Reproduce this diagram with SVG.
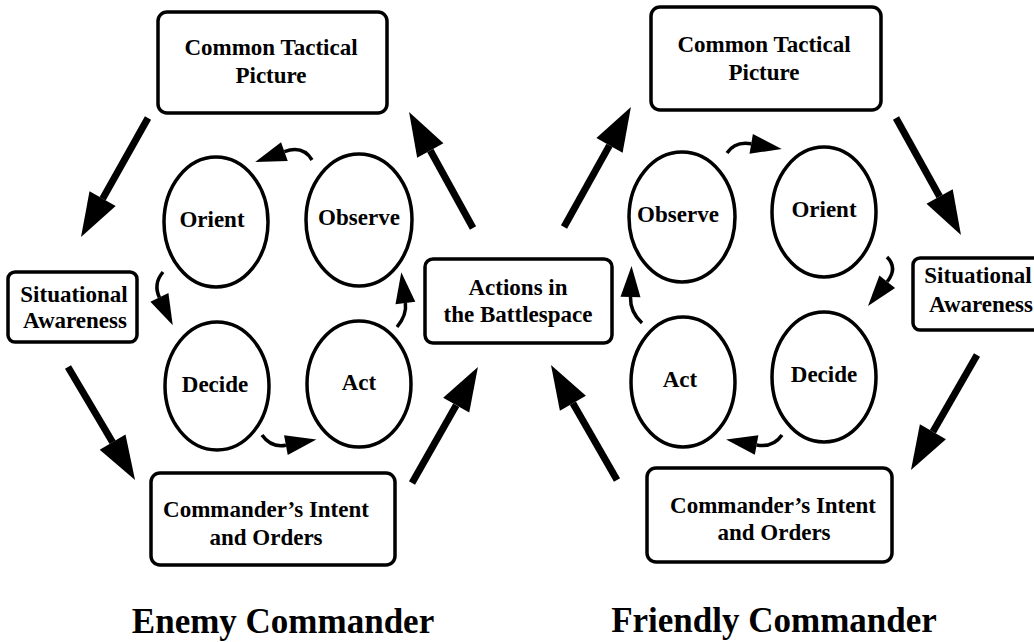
<svg xmlns="http://www.w3.org/2000/svg" width="1034" height="642" viewBox="0 0 1034 642">
<style>
.box{fill:#fff;stroke:#000;stroke-width:3.5}
.ell{fill:#fff;stroke:#000;stroke-width:3.5}
.t{font-family:"Liberation Serif","Times New Roman",serif;font-weight:bold;font-size:23px;fill:#000;text-anchor:middle}
.title{font-family:"Liberation Serif","Times New Roman",serif;font-weight:bold;font-size:35px;fill:#000;text-anchor:middle}
.big{stroke:#000;stroke-width:7;fill:none;marker-end:url(#bighead)}
.small{stroke:#000;stroke-width:3.5;fill:none;marker-end:url(#smallhead)}
</style>
<defs>
<marker id="bighead" markerUnits="userSpaceOnUse" viewBox="0 -15 44 30" markerWidth="44" markerHeight="30" refX="0" refY="0" orient="auto" overflow="visible">
<path d="M0,-15 L44,0 L0,15 Z" fill="#000"/>
</marker>
<marker id="smallhead" markerUnits="userSpaceOnUse" viewBox="0 -10 31 20" markerWidth="31" markerHeight="20" refX="0" refY="0" orient="auto" overflow="visible">
<path d="M0,-10 L31,0 L0,10 Z" fill="#000"/>
</marker>
</defs>
<rect width="1034" height="642" fill="#fff"/>

<g id="connectors">
<line class="big" x1="148" y1="118" x2="102.6" y2="198.7"/>
<line class="big" x1="68" y1="367" x2="112.6" y2="442.2"/>
<line class="big" x1="412" y1="483" x2="456.2" y2="405.2"/>
<line class="big" x1="473" y1="228" x2="430.3" y2="150.5"/>
<line class="big" x1="564" y1="227" x2="609.5" y2="145.4"/>
<line class="big" x1="896" y1="118" x2="939.6" y2="196.5"/>
<line class="big" x1="977" y1="355" x2="932.9" y2="431.8"/>
<line class="big" x1="617" y1="480" x2="572.9" y2="403.2"/>
<path class="small" d="M312,160 Q303,145 284.4,151.6"/>
<path class="small" d="M163,272 Q153,284 159.4,297.4"/>
<path class="small" d="M262,435 Q271,448 285.9,445.2"/>
<path class="small" d="M397,327 Q407,315 405.4,303"/>
<path class="small" d="M727,153 Q735,141 751.2,143.8"/>
<path class="small" d="M887,257 Q898,268 887.2,281.7"/>
<path class="small" d="M782,435 Q773,448 756.6,445"/>
<path class="small" d="M642,323 Q630,312 630.5,297"/>
</g>

<g id="enemy-ctp"><rect class="box" x="158" y="12" width="229" height="101" rx="9"/>
<text class="t" x="271" y="55">Common Tactical</text><text class="t" x="271" y="83">Picture</text></g>
<g id="enemy-sa"><rect class="box" x="8" y="272" width="129" height="70" rx="7"/>
<text class="t" x="74" y="302">Situational</text><text class="t" x="75" y="328">Awareness</text></g>
<g id="enemy-ci"><rect class="box" x="151" y="473" width="244" height="92" rx="9"/>
<text class="t" x="266" y="517">Commander’s Intent</text><text class="t" x="266" y="545">and Orders</text></g>
<g id="enemy-orient"><ellipse class="ell" cx="216" cy="222" rx="52" ry="65"/><text class="t" x="212" y="227">Orient</text></g>
<g id="enemy-observe"><ellipse class="ell" cx="359" cy="220" rx="53" ry="66"/><text class="t" x="359" y="225">Observe</text></g>
<g id="enemy-decide"><ellipse class="ell" cx="217" cy="386" rx="52" ry="64"/><text class="t" x="215" y="392">Decide</text></g>
<g id="enemy-act"><ellipse class="ell" cx="359" cy="384" rx="52" ry="63"/><text class="t" x="359" y="390">Act</text></g>

<g id="actions"><rect class="box" x="425" y="259" width="187" height="84" rx="8"/>
<text class="t" x="518" y="295">Actions in</text><text class="t" x="518" y="322">the Battlespace</text></g>

<g id="friendly-ctp"><rect class="box" x="651" y="7" width="230" height="103" rx="9"/>
<text class="t" x="764" y="52">Common Tactical</text><text class="t" x="764" y="80">Picture</text></g>
<g id="friendly-sa"><rect class="box" x="913" y="258" width="135" height="72" rx="7"/>
<text class="t" x="978" y="283">Situational</text><text class="t" x="981" y="312">Awareness</text></g>
<g id="friendly-ci"><rect class="box" x="647" y="468" width="245" height="94" rx="9"/>
<text class="t" x="773" y="513">Commander’s Intent</text><text class="t" x="774" y="540">and Orders</text></g>
<g id="friendly-observe"><ellipse class="ell" cx="682" cy="217" rx="53" ry="65"/><text class="t" x="678" y="222">Observe</text></g>
<g id="friendly-orient"><ellipse class="ell" cx="824" cy="212" rx="52" ry="65"/><text class="t" x="824" y="217">Orient</text></g>
<g id="friendly-act"><ellipse class="ell" cx="683" cy="382" rx="52" ry="65"/><text class="t" x="680" y="387">Act</text></g>
<g id="friendly-decide"><ellipse class="ell" cx="824" cy="377" rx="52" ry="65"/><text class="t" x="824" y="382">Decide</text></g>

<g id="titles">
<text class="title" x="283" y="633">Enemy Commander</text>
<text class="title" x="774" y="632">Friendly Commander</text>
</g>
</svg>
